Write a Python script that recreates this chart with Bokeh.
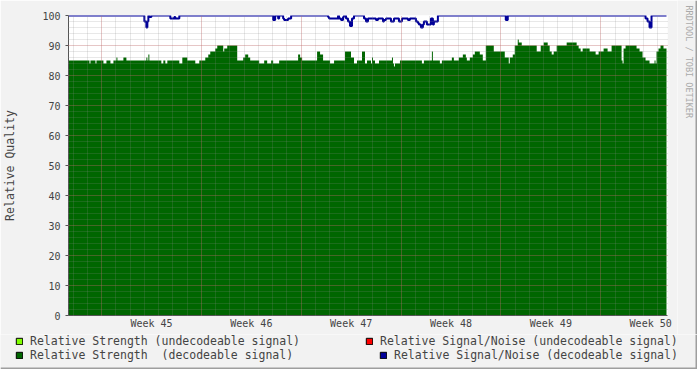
import math
from bokeh.plotting import figure
from bokeh.layouts import column, row
from bokeh.models import Range1d, FixedTicker, Legend, LegendItem, Label, BoxAnnotation
from bokeh.embed import file_html
from bokeh.resources import INLINE

FONT = "DejaVu Sans Mono"
BG = "#F2F2F2"
SHADE = "#9E9E9E"

# time axis: days since the left edge of the 6-week window
t_end = 41.93
week_labels = ["Week 45", "Week 46", "Week 47", "Week 48", "Week 49", "Week 50"]
week_starts = [2.32, 9.32, 16.32, 23.32, 30.32, 37.32]
week_centers = [5.82, 12.82, 19.82, 26.82, 33.82, 40.82]
y_ticks = [0, 10, 20, 30, 40, 50, 60, 70, 80, 90, 100]

# Relative Strength (decodeable signal) - step series (start time, value)
strength_t = [0.00, 1.47, 1.54, 1.89, 1.96, 2.45, 2.66, 2.94, 3.15, 3.36, 3.43, 3.85, 4.06,
              5.46, 5.53, 5.60, 5.67, 6.51, 6.65, 6.79, 6.93, 7.77, 7.98, 8.33, 8.89, 9.17,
              9.59, 9.80, 9.94, 10.29, 10.43, 10.85, 10.92, 11.13, 11.83, 12.25, 12.39, 12.60,
              12.74, 13.37, 13.72, 13.93, 14.21, 14.35, 14.77, 16.10, 16.24, 16.38, 17.43,
              17.64, 17.85, 18.34, 18.62, 19.39, 19.81, 20.02, 20.23, 20.58, 20.79, 20.93,
              21.21, 21.28, 21.35, 21.49, 21.77, 22.68, 22.75, 22.82, 22.89, 23.24, 24.78,
              24.92, 25.48, 25.55, 26.04, 26.18, 26.88, 27.02, 27.37, 27.65, 27.86, 27.93,
              28.14, 28.35, 28.49, 28.84, 29.05, 29.26, 29.82, 30.59, 30.87, 30.94, 31.15,
              31.29, 31.50, 31.57, 31.78, 32.83, 33.11, 33.32, 33.60, 33.74, 33.88, 34.02,
              34.23, 34.93, 35.63, 35.77, 35.91, 36.05, 36.54, 36.96, 37.17, 37.52, 37.80,
              38.08, 38.78, 38.85, 38.92, 39.06, 39.83, 40.04, 40.25, 40.46, 40.74, 41.09,
              41.16, 41.23, 41.37, 41.51, 41.72]
strength_v = [85, 84, 85, 84, 85, 84, 85, 84, 85, 86, 85, 86, 85,
              86, 85, 87, 85, 84, 85, 84, 85, 84, 86, 85, 84, 85,
              86, 87, 88, 89, 90, 88, 89, 90, 85, 86, 87, 86,
              85, 84, 85, 84, 85, 84, 85, 87, 86, 85, 88,
              87, 85, 84, 85, 88, 86, 84, 85, 88, 84, 85,
              84, 86, 85, 84, 85, 86, 84, 83, 84, 85, 84,
              85, 88, 85, 84, 85, 86, 85, 86, 87, 86, 85,
              86, 87, 88, 87, 85, 90, 88, 86, 84, 86, 87,
              90, 92, 91, 90, 88, 90, 91, 90, 88, 87, 88,
              90, 91, 90, 89, 88, 89, 88, 87, 88, 89, 88,
              90, 85, 84, 89, 90, 89, 88, 86, 85, 84, 85,
              84, 88, 89, 90, 89]

# Relative Signal/Noise (decodeable signal) - step series (start time, value)
snr_t = [0.00, 5.32, 5.46, 5.53, 5.60, 5.67, 5.81, 7.14, 7.42, 7.49, 7.77, 14.35, 14.49,
         14.70, 14.77, 15.05, 15.12, 15.40, 15.61, 18.20, 18.27, 18.90, 18.97, 19.11, 19.25,
         19.32, 19.46, 19.60, 19.74, 19.88, 20.02, 20.72, 20.86, 21.00, 21.56, 21.70, 22.05,
         22.12, 22.26, 22.61, 22.82, 23.17, 23.38, 23.80, 23.94, 24.36, 24.50, 24.57, 24.71,
         24.85, 24.92, 25.13, 25.41, 25.55, 25.62, 25.90, 30.66, 30.80, 40.46, 40.60, 40.74,
         40.88]
snr_v = [100, 98, 96, 98, 100, 99.5, 100, 99, 99.5, 99, 100, 98.5, 100,
         99, 100, 99, 98.5, 99, 100, 99.5, 99, 100, 99, 98.5, 99.5,
         100, 99, 98, 96.5, 99, 100, 99, 98, 99, 98.5, 99, 98,
         98.5, 99, 98, 99, 98, 99, 98.5, 99, 98, 97.5, 97, 96,
         97, 98, 97, 99, 97, 98, 100, 98.5, 100, 99, 98, 96,
         100]

legend_labels = ["Relative Strength (undecodeable signal)",
                 "Relative Strength\u00a0 (decodeable signal)",
                 "Relative Signal/Noise (undecodeable signal)",
                 "Relative Signal/Noise (decodeable signal)"]
colors = ["#80FF00", "#006600", "#FF0000", "#000099"]
watermark = "RRDTOOL / TOBI OETIKER"


def steps(t, v, end):
    xs, ys = [], []
    for i in range(len(t)):
        t1 = t[i + 1] if i + 1 < len(t) else end
        xs += [t[i], t1]
        ys += [v[i], v[i]]
    return xs, ys


def blank(w, h):
    f = figure(width=w, height=h, output_backend="svg", toolbar_location=None,
               x_axis_type=None, y_axis_type=None, x_range=Range1d(0, 1), y_range=Range1d(0, 1),
               min_border_left=0, min_border_right=0, min_border_top=0, min_border_bottom=0)
    f.background_fill_color = BG
    f.border_fill_color = BG
    f.outline_line_color = None
    f.xgrid.visible = False
    f.ygrid.visible = False
    f.frame_align = False
    return f


p = figure(width=677, height=334, output_backend="svg", toolbar_location=None,
           x_range=Range1d(0, 42), y_range=Range1d(0, 100),
           min_border_left=67, min_border_right=10, min_border_top=15, min_border_bottom=19)
p.background_fill_color = "#FFFFFF"
p.border_fill_color = BG
p.outline_line_color = None
p.frame_align = False

sx, sy = steps(strength_t, strength_v, t_end)
p.varea(x=sx, y1=[0] * len(sx), y2=sy, fill_color=colors[1])
nx, ny = steps(snr_t, snr_v, t_end)
p.line(x=nx, y=ny, line_color=colors[3], line_width=2)

# axes
days = [week_starts[0] + k for k in range(-2, 40)]
xa = p.xaxis[0]
xa.ticker = FixedTicker(ticks=week_centers, minor_ticks=days)
xa.major_label_overrides = {c: l for c, l in zip(week_centers, week_labels)}
xa.major_tick_line_color = None
xa.major_tick_out = 0
xa.major_tick_in = 0
xa.minor_tick_line_color = None
xa.minor_tick_out = 0
xa.minor_tick_in = 0
xa.axis_line_color = "#555555"
xa.major_label_text_font = FONT
xa.major_label_text_font_size = "10px"
xa.major_label_standoff = 2

ya = p.yaxis[0]
ya.ticker = FixedTicker(ticks=y_ticks, minor_ticks=[])
ya.major_tick_out = 3
ya.major_tick_in = 0
ya.major_tick_line_color = "#555555"
ya.axis_line_color = "#555555"
ya.major_label_text_font = FONT
ya.major_label_text_font_size = "10px"
ya.major_label_standoff = 5
ya.axis_label = "Relative Quality"
ya.axis_label_text_font = FONT
ya.axis_label_text_font_size = "11.5px"
ya.axis_label_text_font_style = "normal"
ya.axis_label_standoff = 22

# grids
p.xgrid.ticker = FixedTicker(ticks=week_starts, minor_ticks=days)
p.ygrid.ticker = FixedTicker(ticks=y_ticks, minor_ticks=list(range(0, 101, 2)))
for g in (p.xgrid[0], p.ygrid[0]):
    g.grid_line_color = "#DE4F4F"
    g.grid_line_alpha = 0.45
    g.grid_line_dash = "1 1"
    g.minor_grid_line_color = "#8F8F8F"
    g.minor_grid_line_alpha = 0.4
    g.minor_grid_line_dash = "1 1"
    g.level = "overlay"

# watermark strip on the right
wm = blank(20, 334)
wm.add_layout(Label(x=11, y=329, x_units="screen", y_units="screen", text=watermark,
                    angle=-math.pi / 2, text_font=FONT, text_font_size="8.5px",
                    text_color="#AAAAAA", text_baseline="middle", text_align="left"))
wm.add_layout(BoxAnnotation(left=18, right=20, left_units="screen", right_units="screen",
                            fill_color=SHADE, fill_alpha=1, line_color=None))

# legend strip below the graph
lg = blank(697, 35)
swatches = [lg.quad(left=[5], right=[6], bottom=[5], top=[6], fill_color=c, line_color="black", line_width=1)
            for c in colors]


def make_legend(items, loc):
    leg = Legend(items=items, location=loc, orientation="vertical",
                 glyph_width=8, glyph_height=8, label_standoff=7, spacing=0,
                 padding=0, margin=0, border_line_color=None, background_fill_alpha=0,
                 label_text_font=FONT, label_text_font_size="11.5px", label_height=14)
    lg.add_layout(leg, "center")


make_legend([LegendItem(label=legend_labels[0], renderers=[swatches[0]]),
             LegendItem(label=legend_labels[1], renderers=[swatches[1]])], (15, 7))
make_legend([LegendItem(label=legend_labels[2], renderers=[swatches[2]])], (365, 21))
make_legend([LegendItem(label=legend_labels[3], renderers=[swatches[3]])], (379, 7))
lg.add_layout(BoxAnnotation(bottom=0, top=2, bottom_units="screen", top_units="screen",
                            fill_color=SHADE, fill_alpha=1, line_color=None))
lg.add_layout(BoxAnnotation(left=695, right=697, left_units="screen", right_units="screen",
                            fill_color=SHADE, fill_alpha=1, line_color=None))

layout = column(row(p, wm, spacing=0), lg, spacing=0)
open("out.html", "w").write(file_html(layout, INLINE))
